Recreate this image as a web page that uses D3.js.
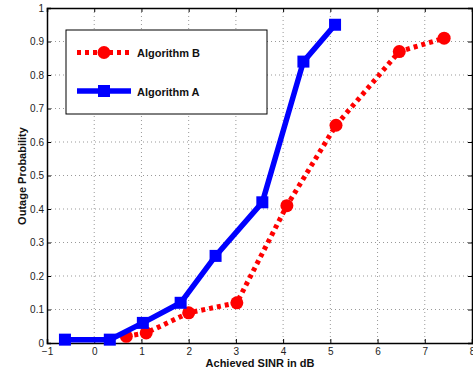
<!DOCTYPE html>
<meta charset="utf-8">
<html>
<head>
    <script src="https://d3js.org/d3.v7.min.js"></script>
    <style>
        body { margin: 0; background: #fff; }
        text { font-family: Arial, "Liberation Sans", Helvetica, sans-serif; }
    </style>
</head>
<body>
    <div id="chart"></div>
    <script>
        // data
        var xTicks = [-1, 0, 1, 2, 3, 4, 5, 6, 7, 8];
        var yTicks = [0, 0.1, 0.2, 0.3, 0.4, 0.5, 0.6, 0.7, 0.8, 0.9, 1];
        var aX = [-0.62, 0.33, 1.03, 1.83, 2.57, 3.56, 4.43, 5.1];
        var aY = [0.01, 0.01, 0.06, 0.12, 0.26, 0.42, 0.84, 0.95];
        var bX = [0.68, 1.1, 2.0, 3.02, 4.08, 5.12, 6.46, 7.41];
        var bY = [0.02, 0.03, 0.09, 0.12, 0.41, 0.65, 0.87, 0.91];
        var seriesNames = ["Algorithm B", "Algorithm A"];

        var W = 473, H = 373;
        var margin = { top: 8, right: 1, bottom: 30, left: 47 },
            width = W - margin.left - margin.right,
            height = H - margin.top - margin.bottom;

        var svg = d3.select("#chart").append("svg")
            .attr("width", W).attr("height", H);
        var g = svg.append("g")
            .attr("transform", "translate(" + margin.left + "," + margin.top + ")");

        var x = d3.scaleLinear().domain([-1, 8]).range([0, width]);
        var y = d3.scaleLinear().domain([0, 1]).range([height, 0]);

        // grid
        g.append("g").selectAll("line").data(xTicks.slice(1, -1)).enter().append("line")
            .attr("x1", function (d) { return x(d); }).attr("x2", function (d) { return x(d); })
            .attr("y1", 0).attr("y2", height)
            .style("stroke", "#999").style("stroke-dasharray", "1,3");
        g.append("g").selectAll("line").data(yTicks.slice(1, -1)).enter().append("line")
            .attr("y1", function (d) { return y(d); }).attr("y2", function (d) { return y(d); })
            .attr("x1", 0).attr("x2", width)
            .style("stroke", "#999").style("stroke-dasharray", "1,3");

        // axes, ticks pointing inward (all four sides)
        var xb = g.append("g").attr("transform", "translate(0," + height + ")")
            .call(d3.axisBottom(x).tickValues(xTicks).tickSize(-4).tickPadding(5));
        var xt = g.append("g")
            .call(d3.axisTop(x).tickValues(xTicks).tickSize(-4).tickFormat(""));
        var yl = g.append("g")
            .call(d3.axisLeft(y).tickValues(yTicks).tickSize(-4).tickPadding(3)
                .tickFormat(function (d) { return d === 0 || d === 1 ? d : d3.format(".1f")(d); }));
        var yr = g.append("g").attr("transform", "translate(" + width + ",0)")
            .call(d3.axisRight(y).tickValues(yTicks).tickSize(-4).tickFormat(""));
        [xb, xt, yl, yr].forEach(function (a) {
            a.select(".domain").style("stroke", "#000").style("stroke-width", 1.5);
            a.selectAll(".tick line").style("stroke", "#000");
            a.selectAll("text").style("font-size", "10px").style("fill", "#222")
                .style("font-family", "Arial, 'Liberation Sans', sans-serif");
        });

        var line = d3.line()
            .x(function (d) { return x(d[0]); })
            .y(function (d) { return y(d[1]); });

        var dataB = bX.map(function (v, i) { return [v, bY[i]]; });
        var dataA = aX.map(function (v, i) { return [v, aY[i]]; });

        // Algorithm B
        g.append("path").datum(dataB).attr("d", line)
            .style("fill", "none").style("stroke", "#ff0000")
            .style("stroke-width", 5).style("stroke-dasharray", "4,4");
        g.append("g").selectAll("circle").data(dataB).enter().append("circle")
            .attr("cx", function (d) { return x(d[0]); })
            .attr("cy", function (d) { return y(d[1]); })
            .attr("r", 6.5).style("fill", "#ff0000");

        // Algorithm A
        g.append("path").datum(dataA).attr("d", line)
            .style("fill", "none").style("stroke", "#0000ff")
            .style("stroke-width", 5.5).style("stroke-linejoin", "miter");
        g.append("g").selectAll("rect").data(dataA).enter().append("rect")
            .attr("x", function (d) { return x(d[0]) - 6; })
            .attr("y", function (d) { return y(d[1]) - 6; })
            .attr("width", 12).attr("height", 12).style("fill", "#0000ff");

        // legend
        var lg = svg.append("g").attr("transform", "translate(66,30)");
        lg.append("rect").attr("width", 201).attr("height", 84)
            .style("fill", "#fff").style("stroke", "#000").style("stroke-width", 1);
        lg.append("line").attr("x1", 11).attr("x2", 63).attr("y1", 22.5).attr("y2", 22.5)
            .style("stroke", "#ff0000").style("stroke-width", 5).style("stroke-dasharray", "4,4");
        lg.append("circle").attr("cx", 38).attr("cy", 22.5).attr("r", 6.5).style("fill", "#ff0000");
        lg.append("line").attr("x1", 11).attr("x2", 65).attr("y1", 61).attr("y2", 61)
            .style("stroke", "#0000ff").style("stroke-width", 5.5);
        lg.append("rect").attr("x", 32).attr("y", 55).attr("width", 12).attr("height", 12).style("fill", "#0000ff");
        lg.selectAll("text.lab").data(seriesNames).enter().append("text")
            .attr("x", 71).attr("y", function (d, i) { return i === 0 ? 27 : 65.5; })
            .style("font-size", "11px").style("font-weight", "bold").style("fill", "#111")
            .text(function (d) { return d; });

        // axis labels
        svg.append("text").attr("x", 260).attr("y", 367).attr("text-anchor", "middle")
            .style("font-size", "11px").style("font-weight", "bold").style("fill", "#111")
            .text("Achieved SINR in dB");
        svg.append("text").attr("transform", "translate(26,176) rotate(-90)")
            .attr("text-anchor", "middle")
            .style("font-size", "11px").style("font-weight", "bold").style("fill", "#111")
            .text("Outage Probability");
    </script>
</body>
</html>
